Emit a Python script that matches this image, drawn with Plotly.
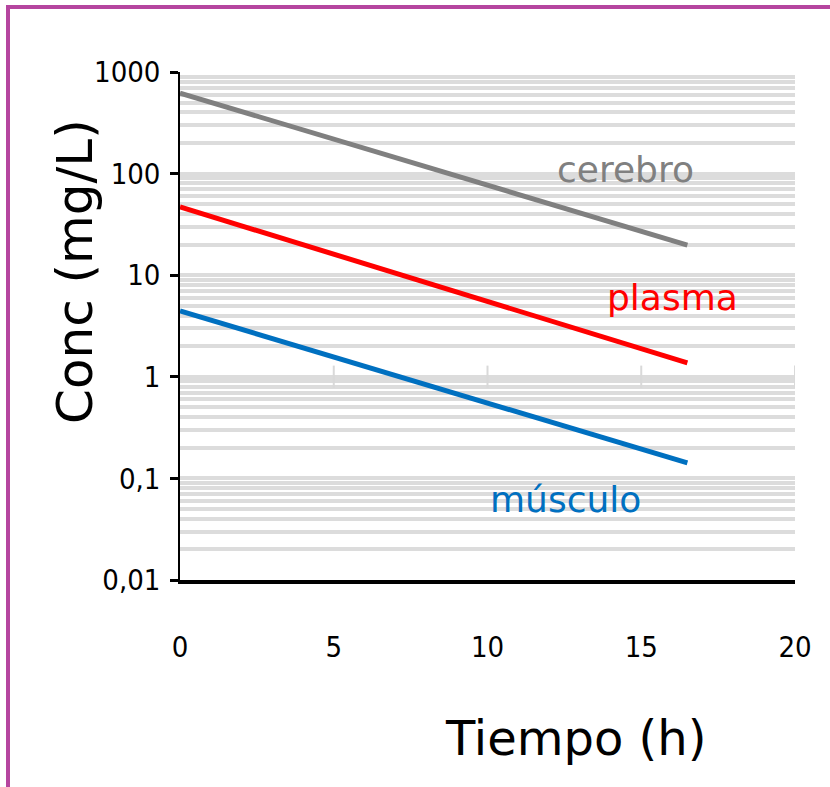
import math
import plotly.graph_objects as go

# Concentration-time profiles (log scale) for three compartments
tiempo = [0, 16.5]
cerebro = [620, 19.8]
plasma = [47, 1.37]
musculo = [4.45, 0.142]

series_names = ["cerebro", "plasma", "músculo"]
series_colors = ["#808080", "#ff0000", "#0070c0"]

x_ticks = [0, 5, 10, 15, 20]
x_ticktext = ["0", "5", "10", "15", "20"]
y_ticks = [0.01, 0.1, 1, 10, 100, 1000]
y_ticktext = ["0,01", "0,1", "1", "10", "100", "1000"]
y_minor = [m * 10 ** e for e in range(-2, 3) for m in range(2, 10)]

# label anchor positions (time, concentration)
label_x = [14.5, 16.0, 12.53]
label_y = [111, 6.1, 0.0627]

W, H = 830, 787
ML, MR, MT, MB = 180, 35, 72, 207
PW, PH = W - ML - MR, H - MT - MB


def px(xp):
    return (xp - ML) / PW


def py(yp):
    return (H - MB - yp) / PH


fig = go.Figure()

for name, vals, col in zip(series_names, [cerebro, plasma, musculo], series_colors):
    fig.add_trace(go.Scatter(x=tiempo, y=vals, mode="lines", name=name,
                             line=dict(color=col, width=5), hoverinfo="skip"))

# faint tick marks along the unit line
fig.add_trace(go.Scatter(x=x_ticks[1:], y=[1] * 4, mode="markers",
                         marker=dict(symbol="line-ns-open", size=16, color="#d9d9d9",
                                     line=dict(color="#d9d9d9", width=2)),
                         hoverinfo="skip"))

for name, xv, yv, col in zip(series_names, label_x, label_y, series_colors):
    fig.add_annotation(x=xv, y=math.log10(yv), xref="x", yref="y", text=name,
                       showarrow=False, font=dict(family="DejaVu Sans", size=36, color=col),
                       xanchor="center", yanchor="middle")

fig.add_annotation(x=px(75), y=py(271), xref="paper", yref="paper", text="Conc (mg/L)",
                   textangle=-90, showarrow=False,
                   font=dict(family="DejaVu Sans", size=50, color="black"),
                   xanchor="center", yanchor="middle")
fig.add_annotation(x=px(575), y=py(738), xref="paper", yref="paper", text="Tiempo (h)",
                   showarrow=False,
                   font=dict(family="DejaVu Sans", size=48, color="black"),
                   xanchor="center", yanchor="middle")

border = "#b5459f"
fig.add_shape(type="line", xref="paper", yref="paper", x0=px(6), x1=px(W + 5),
              y0=py(7), y1=py(7), line=dict(color=border, width=4))
fig.add_shape(type="line", xref="paper", yref="paper", x0=px(8), x1=px(8),
              y0=py(5), y1=py(H + 5), line=dict(color=border, width=4))

tick_font = dict(family="DejaVu Sans Condensed, Liberation Sans Narrow, Liberation Sans",
                 size=29, color="black")

fig.update_layout(
    width=W, height=H,
    margin=dict(l=ML, r=MR, t=MT, b=MB),
    paper_bgcolor="white", plot_bgcolor="white",
    showlegend=False,
    xaxis=dict(range=[0, 20], tickvals=x_ticks, ticktext=x_ticktext, ticks="",
               showgrid=False, zeroline=False, showline=True, linecolor="black",
               linewidth=4, tickfont=tick_font, ticklabelstandoff=38),
    yaxis=dict(type="log", range=[-2, 3], tickvals=y_ticks, ticktext=y_ticktext,
               ticks="outside", ticklen=8, tickwidth=3, tickcolor="black",
               showgrid=True, gridcolor="#dcdcdc", gridwidth=4,
               minor=dict(tickvals=y_minor, showgrid=True, gridcolor="#dcdcdc",
                          gridwidth=4, ticks=""),
               zeroline=False, showline=True, linecolor="black", linewidth=1.5,
               tickfont=tick_font, ticklabelstandoff=4),
)

fig.write_html("out.html")
